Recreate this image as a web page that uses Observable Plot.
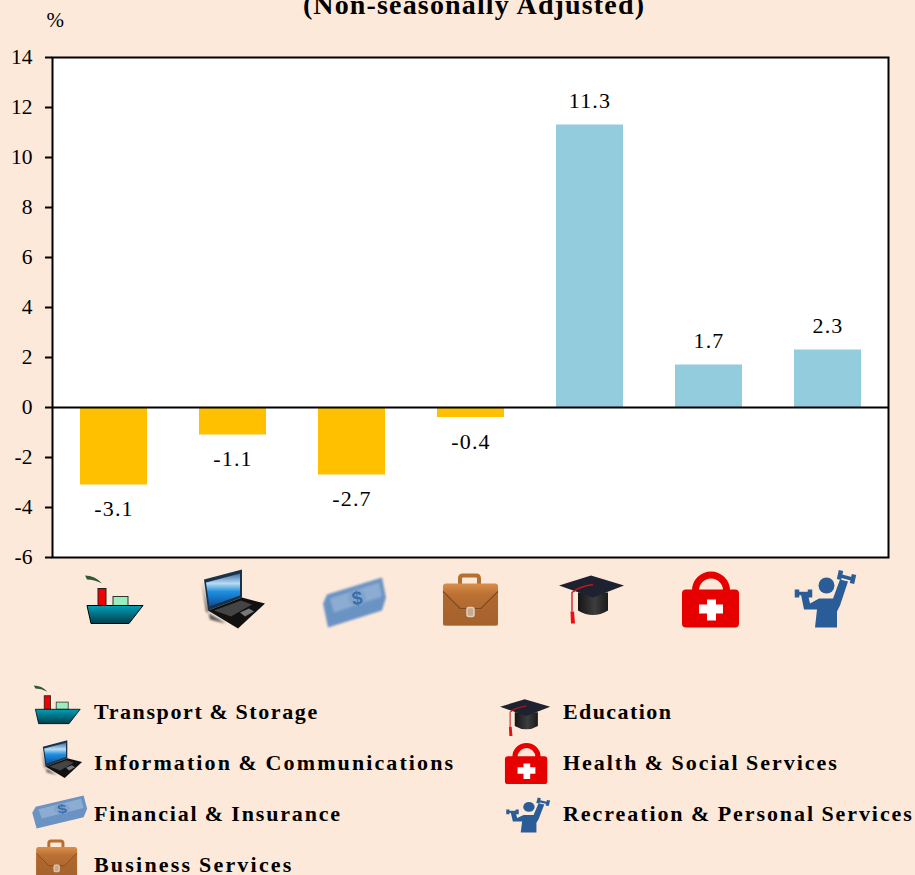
<!DOCTYPE html>
<html>
<head>
<meta charset="utf-8">
<script src="https://cdn.jsdelivr.net/npm/d3@7"></script>
<script src="https://cdn.jsdelivr.net/npm/@observablehq/plot@0.6"></script>
<style>
html,body{margin:0;padding:0;background:#fde9d9;width:915px;height:875px;overflow:hidden;position:relative;font-family:"Liberation Serif",serif;color:#000}
#chart{position:absolute;left:0;top:0}
#title{position:absolute;left:0;width:948px;top:-10px;text-align:center;font-weight:bold;font-size:28px;line-height:30px;letter-spacing:1.15px}
.lab{position:absolute;font-weight:bold;font-size:22px;line-height:24px;white-space:nowrap;transform:translateY(-50%);word-spacing:-1px}
.ico{position:absolute;display:block}
.l0,.l1,.l2,.l3{left:94px}.l4,.l5,.l6{left:563px}
.l0,.l4{top:712px}.l1,.l5{top:763px}.l2,.l6{top:814px}.l3{top:865px}
.l0{letter-spacing:1.6px}.l1{letter-spacing:2.1px}.l2{letter-spacing:1.83px}.l3{letter-spacing:2.2px}.l4{letter-spacing:1.41px}.l5{letter-spacing:1.97px}.l6{letter-spacing:1.93px}
.i0{left:28.5px;top:678.5px;width:56.7px;height:51.8px}
.i1{left:38.7px;top:738.7px;width:45.5px;height:41.6px}
.i2{left:26.8px;top:789.4px;width:61px;height:42px}
.i3{left:30.75px;top:834.5px;width:52.5px;height:48px}
.i4{left:497px;top:693px;width:54px;height:49px}
.i5{left:499px;top:740px;width:52px;height:47px}
.i6{left:505px;top:796px;width:50px;height:38.5px}
.val text{letter-spacing:1.2px}
</style>
</head>
<body>
<div id="chart"></div>
<div id="title">(Non-seasonally Adjusted)</div>
<div id="legend"></div>
<script>
const categories = ["Transport & Storage","Information & Communications","Financial & Insurance","Business Services","Education","Health & Social Services","Recreation & Personal Services"];
const growth = [-3.1,-1.1,-2.7,-0.4,11.3,1.7,2.3];
const yTicks = [-6,-4,-2,0,2,4,6,8,10,12,14];

const wrap = b => "data:image/svg+xml;utf8," + encodeURIComponent(`<svg xmlns="http://www.w3.org/2000/svg" viewBox="0 0 70 64" width="70" height="64" preserveAspectRatio="none">${b}</svg>`);
const icons = [
wrap(`<defs><linearGradient id="h" x1="0" y1="0" x2="0" y2="1"><stop offset="0" stop-color="#00a0b8"/><stop offset="1" stop-color="#003f4c"/></linearGradient></defs>
<g transform="translate(-2 0)"><path d="M8 8Q18 8 25 16Q17 12 10 12Z" fill="#2f5a35"/>
<rect x="21" y="21" width="8" height="17" fill="#f00000" stroke="#222" stroke-width="1"/>
<rect x="36" y="29" width="15" height="9" fill="#99eebb" stroke="#333" stroke-width="1"/>
<path d="M10 38H66L52 56H14Z" fill="url(#h)" stroke="#000" stroke-width="1"/></g>`),
wrap(`<defs><linearGradient id="s" x1="0" y1="0" x2="0" y2="1"><stop offset="0" stop-color="#3f6fa8"/><stop offset=".3" stop-color="#b8dcf0"/><stop offset=".55" stop-color="#1f8fe0"/><stop offset="1" stop-color="#0a4f9a"/></linearGradient><filter id="b"><feGaussianBlur stdDeviation="1.300"/></filter></defs>
<g transform="translate(-2 0)"><path d="M6 14L10 44L30 56L14 52Z" fill="#555" filter="url(#b)"/>
<path d="M8 12L46 2V30L12 43Z" fill="#17324a"/>
<path d="M10 15L44 6V28L13.500 39Z" fill="url(#s)"/>
<path d="M12 43L46 30L69 36L42 61Z" fill="#111"/>
<path d="M18 43L45 33L56 37L35 49Z" fill="#444"/>
<path d="M44 45L53 41L58 44L49 49Z" fill="#777"/></g>`),
wrap(`<defs><filter id="b"><feGaussianBlur stdDeviation=".8"/></filter></defs>
<g filter="url(#b)"><path d="M6 36L10 27L65 10L69 30L65 43L11 60Z" fill="#6a93c4"/>
<path d="M13 31L62 15L65 29L17 45Z" fill="#8dacd2"/>
<ellipse cx="40" cy="30" rx="9" ry="8" fill="#7fa3cd"/></g>
<text x="40" y="37" text-anchor="middle" font-family="Liberation Sans" font-weight="bold" font-size="19" fill="#3a6ea8" transform="rotate(-8 40 30)">$</text>`),
wrap(`<defs><linearGradient id="c" x1="0" y1="0" x2="0" y2="1"><stop offset="0" stop-color="#d88f4c"/><stop offset=".25" stop-color="#bd7133"/><stop offset="1" stop-color="#9c5f30"/></linearGradient></defs>
<path d="M24 17V11Q24 8 27 8H40Q43 8 43 11V17" fill="none" stroke="#b5702f" stroke-width="4"/>
<rect x="7" y="16" width="55" height="42" rx="3" fill="url(#c)"/>
<path d="M7 24L24 41H45L62 24" fill="none" stroke="#7c4a20" stroke-width="1.200"/>
<path d="M7 26L24 43H45L62 26V58H7Z" fill="#a9642c" opacity=".7"/>
<rect x="31" y="40" width="7" height="9" rx="2" fill="#c9a88c" stroke="#e2d0bd" stroke-width="1.500"/>`),
wrap(`<defs><linearGradient id="k" x1="0" y1="0" x2="1" y2="0"><stop offset="0" stop-color="#151515"/><stop offset=".55" stop-color="#3d3d3d"/><stop offset="1" stop-color="#1a1a1a"/></linearGradient></defs>
<path d="M23 25V43Q38 52 53 43V25Z" fill="url(#k)"/>
<path d="M4 18L36 8L69 18L38 30Z" fill="#1e2230"/>
<path d="M38 17Q24 19 17 25V44" fill="none" stroke="#c81414" stroke-width="1.300"/>
<path d="M15.500 44H19L20 56H16Z" fill="#e81010"/>`),
wrap(`<path d="M21.500 26V23A15.500 15.500 0 0 1 52.500 23V26" fill="none" stroke="#e60000" stroke-width="7"/>
<rect x="8" y="22" width="57" height="38" rx="4" fill="#e60000"/>
<path d="M33 32H42V37H49V46H42V53H33V46H25V37H33Z" fill="#fff"/>`),
wrap(`<defs><filter id="b"><feGaussianBlur stdDeviation=".5"/></filter></defs>
<g fill="#2a5d98" stroke="#2a5d98" filter="url(#b)"><circle cx="33.500" cy="18" r="8" stroke="none"/>
<path d="M22 60L24 42L11 42L8 27L15 27L17 36L26 31H40L47 12L55 14L47 38L44 44L44 60Z" stroke="none"/>
<path d="M3 26H18" stroke-width="3.500"/><path d="M4 22V30M17 22V30" stroke-width="4.500"/>
<path d="M46 8L61 12" stroke-width="3.500"/><path d="M48 3L46 12M61 7L59 16" stroke-width="4.500"/></g>`)
];

const data = categories.map((c,i)=>({c,v:growth[i],src:icons[i],n:i}));
const txt = d => d.v.toFixed(1);

const plot = Plot.plot({
  width:915,height:640,
  marginLeft:52,marginRight:27,marginTop:57,marginBottom:83,
  style:{background:"transparent",fontFamily:"'Liberation Serif',serif",overflow:"visible"},
  x:{domain:categories,paddingInner:0.44,paddingOuter:0.22,axis:null},
  y:{domain:[-6,14],label:null},
  marks:[
    Plot.frame({fill:"white",stroke:null}),
    Plot.barY(data,{x:"c",y:"v",fill:d=>d.v<0?"#ffc000":"#93cddd"}),
    Plot.ruleY([0],{stroke:"black",strokeWidth:2}),
    Plot.frame({stroke:"black",strokeWidth:2}),
    Plot.axisY({ticks:yTicks,tickFormat:d=>String(d),tickSize:7,tickPadding:13,fontSize:21.5,strokeWidth:2,stroke:"black",fill:"black",label:null}),
    Plot.text(data.filter(d=>d.v>=0),{x:"c",y:"v",text:txt,dy:-24,fontSize:22,fill:"black",className:"val",lineAnchor:"middle"}),
    Plot.text(data.filter(d=>d.v<0),{x:"c",y:"v",text:txt,dy:24,fontSize:22,fill:"black",className:"val",lineAnchor:"middle"}),
    Plot.text(["%"],{frameAnchor:"top-left",dx:-6,dy:-37,text:d=>d,textAnchor:"start",lineAnchor:"middle",fontSize:21,fill:"black"}),
    Plot.image(data,{x:"c",frameAnchor:"bottom",dy:42,src:"src",width:70,height:64})
  ]
});
document.getElementById("chart").appendChild(plot);

const leg = document.getElementById("legend");
data.forEach((d,i)=>{
  const im=document.createElement("img");im.src=d.src;im.alt="";im.className="ico i"+i;leg.appendChild(im);
  const s=document.createElement("div");s.className="lab l"+i;s.textContent=d.c;leg.appendChild(s);
});
</script>
</body>
</html>
